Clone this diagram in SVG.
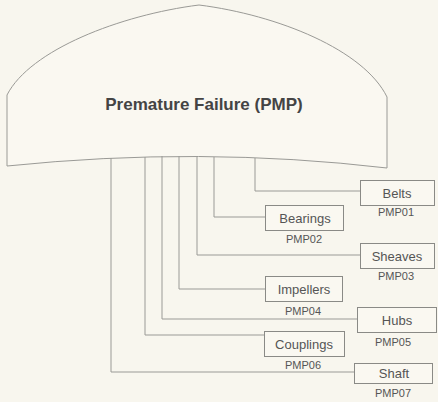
<svg xmlns="http://www.w3.org/2000/svg" width="438" height="402" viewBox="0 0 438 402">
<style>
.ln{fill:none;stroke:#9a9a96;stroke-width:1}
.box{fill:#faf8f1;stroke:#8a8a86;stroke-width:1}
.lbl{font-family:"Liberation Sans",Arial,sans-serif;font-size:13px;fill:#555;text-anchor:middle}
.code{font-family:"Liberation Sans",Arial,sans-serif;font-size:11px;fill:#555;text-anchor:middle}
.title{font-family:"Liberation Sans",Arial,sans-serif;font-size:17px;font-weight:bold;fill:#444;text-anchor:middle}
</style>
<rect width="438" height="402" fill="#f8f6ee"/>
<g id="root">
<path class="ln" d="M7,166 L7,95 C30,50 120,15 199,5 C278,15 364,50 387,97 L387,168 Q200,146 7,166 Z" style="fill:#faf8f1"/>
<text class="title" x="204" y="110">Premature Failure (PMP)</text>
</g>
<g id="connectors">
<path class="ln" d="M255,158 V191 H360"/>
<path class="ln" d="M214,157 V217 H266"/>
<path class="ln" d="M197,156 V255 H360"/>
<path class="ln" d="M179,156 V289 H265"/>
<path class="ln" d="M162,156 V319 H357"/>
<path class="ln" d="M145,157 V335 H264"/>
<path class="ln" d="M111,158 V372 H354"/>
</g>
<g id="belts">
<rect class="box" x="360.5" y="180.5" width="74" height="25"/>
<text class="lbl" x="397" y="198">Belts</text>
<text class="code" x="396" y="216">PMP01</text>
</g>
<g id="bearings">
<rect class="box" x="265.5" y="205.5" width="78" height="25"/>
<text class="lbl" x="305" y="223">Bearings</text>
<text class="code" x="304" y="243">PMP02</text>
</g>
<g id="sheaves">
<rect class="box" x="360.5" y="243.5" width="74" height="25"/>
<text class="lbl" x="397" y="261">Sheaves</text>
<text class="code" x="396" y="280">PMP03</text>
</g>
<g id="impellers">
<rect class="box" x="265.5" y="276.5" width="77" height="25"/>
<text class="lbl" x="304" y="294">Impellers</text>
<text class="code" x="303" y="315">PMP04</text>
</g>
<g id="hubs">
<rect class="box" x="357.5" y="307.5" width="79" height="25"/>
<text class="lbl" x="397" y="325">Hubs</text>
<text class="code" x="393" y="346">PMP05</text>
</g>
<g id="couplings">
<rect class="box" x="264.5" y="331.5" width="80" height="25"/>
<text class="lbl" x="304" y="349">Couplings</text>
<text class="code" x="303" y="369">PMP06</text>
</g>
<g id="shaft">
<rect class="box" x="354.5" y="363.5" width="78" height="20"/>
<text class="lbl" x="394" y="378">Shaft</text>
<text class="code" x="393" y="397">PMP07</text>
</g>
</svg>
